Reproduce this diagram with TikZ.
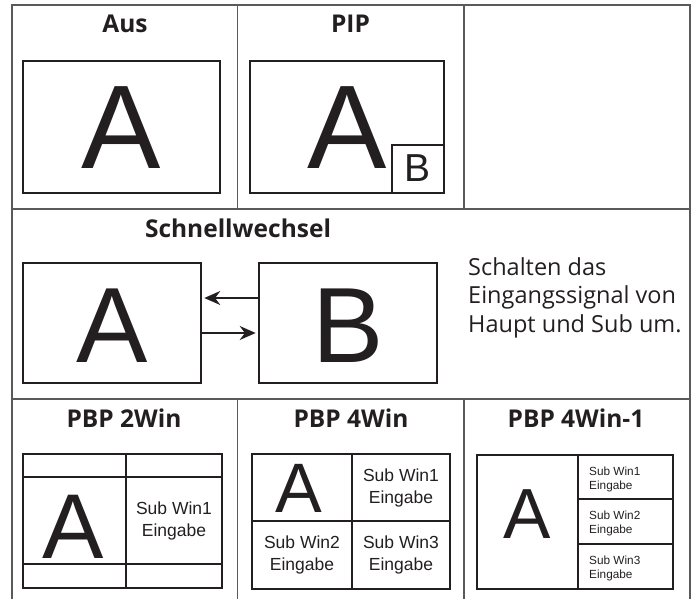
\documentclass[tikz,border=0pt]{standalone}
\usepackage{fontspec}
\setmainfont{Open Sans}
\newfontfamily\arialfont{Liberation Sans}
\usetikzlibrary{arrows.meta}
\definecolor{ink}{HTML}{231F20}
\definecolor{rule}{HTML}{5A5A5A}

\begin{document}
\begin{tikzpicture}[x=1pt, y=-1pt, >={Stealth[length=16pt,width=14pt]},
  grid/.style={draw=rule, line width=1.3pt},
  screen/.style={draw=ink, line width=2.6pt, inner sep=0pt},
  divider/.style={draw=ink, line width=2pt},
  heading/.style={anchor=base, inner sep=0pt, text=ink, font=\bfseries\fontsize{24.5}{24.5}\selectfont},
  note/.style={anchor=base west, inner sep=0pt, text=ink, font=\fontsize{23.5}{28}\selectfont},
  letter/.style={anchor=base, inner sep=0pt, text=ink, font=\arialfont\fontsize{#1}{#1}\selectfont},
  subwin/.style={align=center, inner sep=0pt, text=ink, font=\arialfont\fontsize{17.5}{22}\selectfont},
  smallwin/.style={anchor=west, align=left, inner sep=0pt, text=ink, font=\arialfont\fontsize{11.8}{14}\selectfont}]
  \useasboundingbox (0,0) rectangle (696,599);

  % table rules (bottom edge runs past the page)
  \draw[grid] (12,599) -- (12,5) -- (690,5) -- (690,599);
  \draw[grid] (12,209) -- (690,209) (12,399) -- (690,399);
  \foreach \x in {237.5,464} {
    \draw[grid] (\x,5) -- (\x,209) (\x,399) -- (\x,599);
  }

  % headings
  \node[heading] (tAus) at (125,33) {Aus};
  \node[heading] (tPIP) at (350.5,33) {PIP};
  \node[heading] (tSwap) at (238,237) {Schnellwechsel};
  \node[heading] (tPBP2) at (124,427) {PBP 2Win};
  \node[heading] (tPBP4) at (351,427) {PBP 4Win};
  \node[heading] (tPBP41) at (576,427) {PBP 4Win-1};

  % off
  \draw[screen] (23,61) rectangle (220,193);
  \node[letter=119] (offA) at (121,168) {A};

  % picture in picture
  \draw[screen] (250,61) rectangle (444,193);
  \draw[screen] (392,145) rectangle (444,193);
  \node[letter=119] (pipA) at (347,168) {A};
  \node[letter=39] (pipB) at (418,182) {B};

  % quick swap
  \node[screen, minimum width=178pt, minimum height=120pt] (swA) at (112,323) {};
  \node[letter=107] (swAtxt) at (112,362) {A};
  \node[screen, minimum width=178pt, minimum height=120pt] (swB) at (348,323) {};
  \node[letter=107] (swBtxt) at (348,362) {B};
  \draw[->, ink, line width=1.6pt, shorten >=2pt] ([yshift=25pt]swB.west) -- ([yshift=25pt]swA.east);
  \draw[->, ink, line width=1.6pt, shorten >=2pt] ([yshift=-10pt]swA.east) -- ([yshift=-10pt]swB.west);
  \foreach \line [count=\i] in {Schalten das, Eingangssignal von, Haupt und Sub um.}
    \node[note] (note\i) at (468,{246.5+28.5*\i}) {\line};

  % PBP 2Win
  \draw[screen] (23,454) rectangle (222,588);
  \draw[divider] (126,454) -- (126,588) (23,477) -- (222,477) (23,564) -- (222,564);
  \node[letter=92] (p2A) at (73.5,558) {A};
  \node[subwin] (p2s1) at (174,520.5) {Sub Win1\\Eingabe};

  % PBP 4Win
  \draw[screen] (252,454) rectangle (450,589);
  \draw[divider] (352,454) -- (352,589) (252,521) -- (450,521);
  \node[letter=70] (p4A) at (299,512) {A};
  \node[subwin] (p4s1) at (401,488) {Sub Win1\\Eingabe};
  \node[subwin] (p4s2) at (302,555) {Sub Win2\\Eingabe};
  \node[subwin] (p4s3) at (401,555) {Sub Win3\\Eingabe};

  % PBP 4Win-1
  \draw[screen] (477,455) rectangle (673,589);
  \draw[divider] (578,455) -- (578,589) (578,499) -- (673,499) (578,544) -- (673,544);
  \node[letter=71] (p41A) at (527,538) {A};
  \foreach \n/\y in {1/479, 2/523.5, 3/568.5}
    \node[smallwin] (p41s\n) at (589,\y) {Sub Win\n\\Eingabe};
\end{tikzpicture}
\end{document}
